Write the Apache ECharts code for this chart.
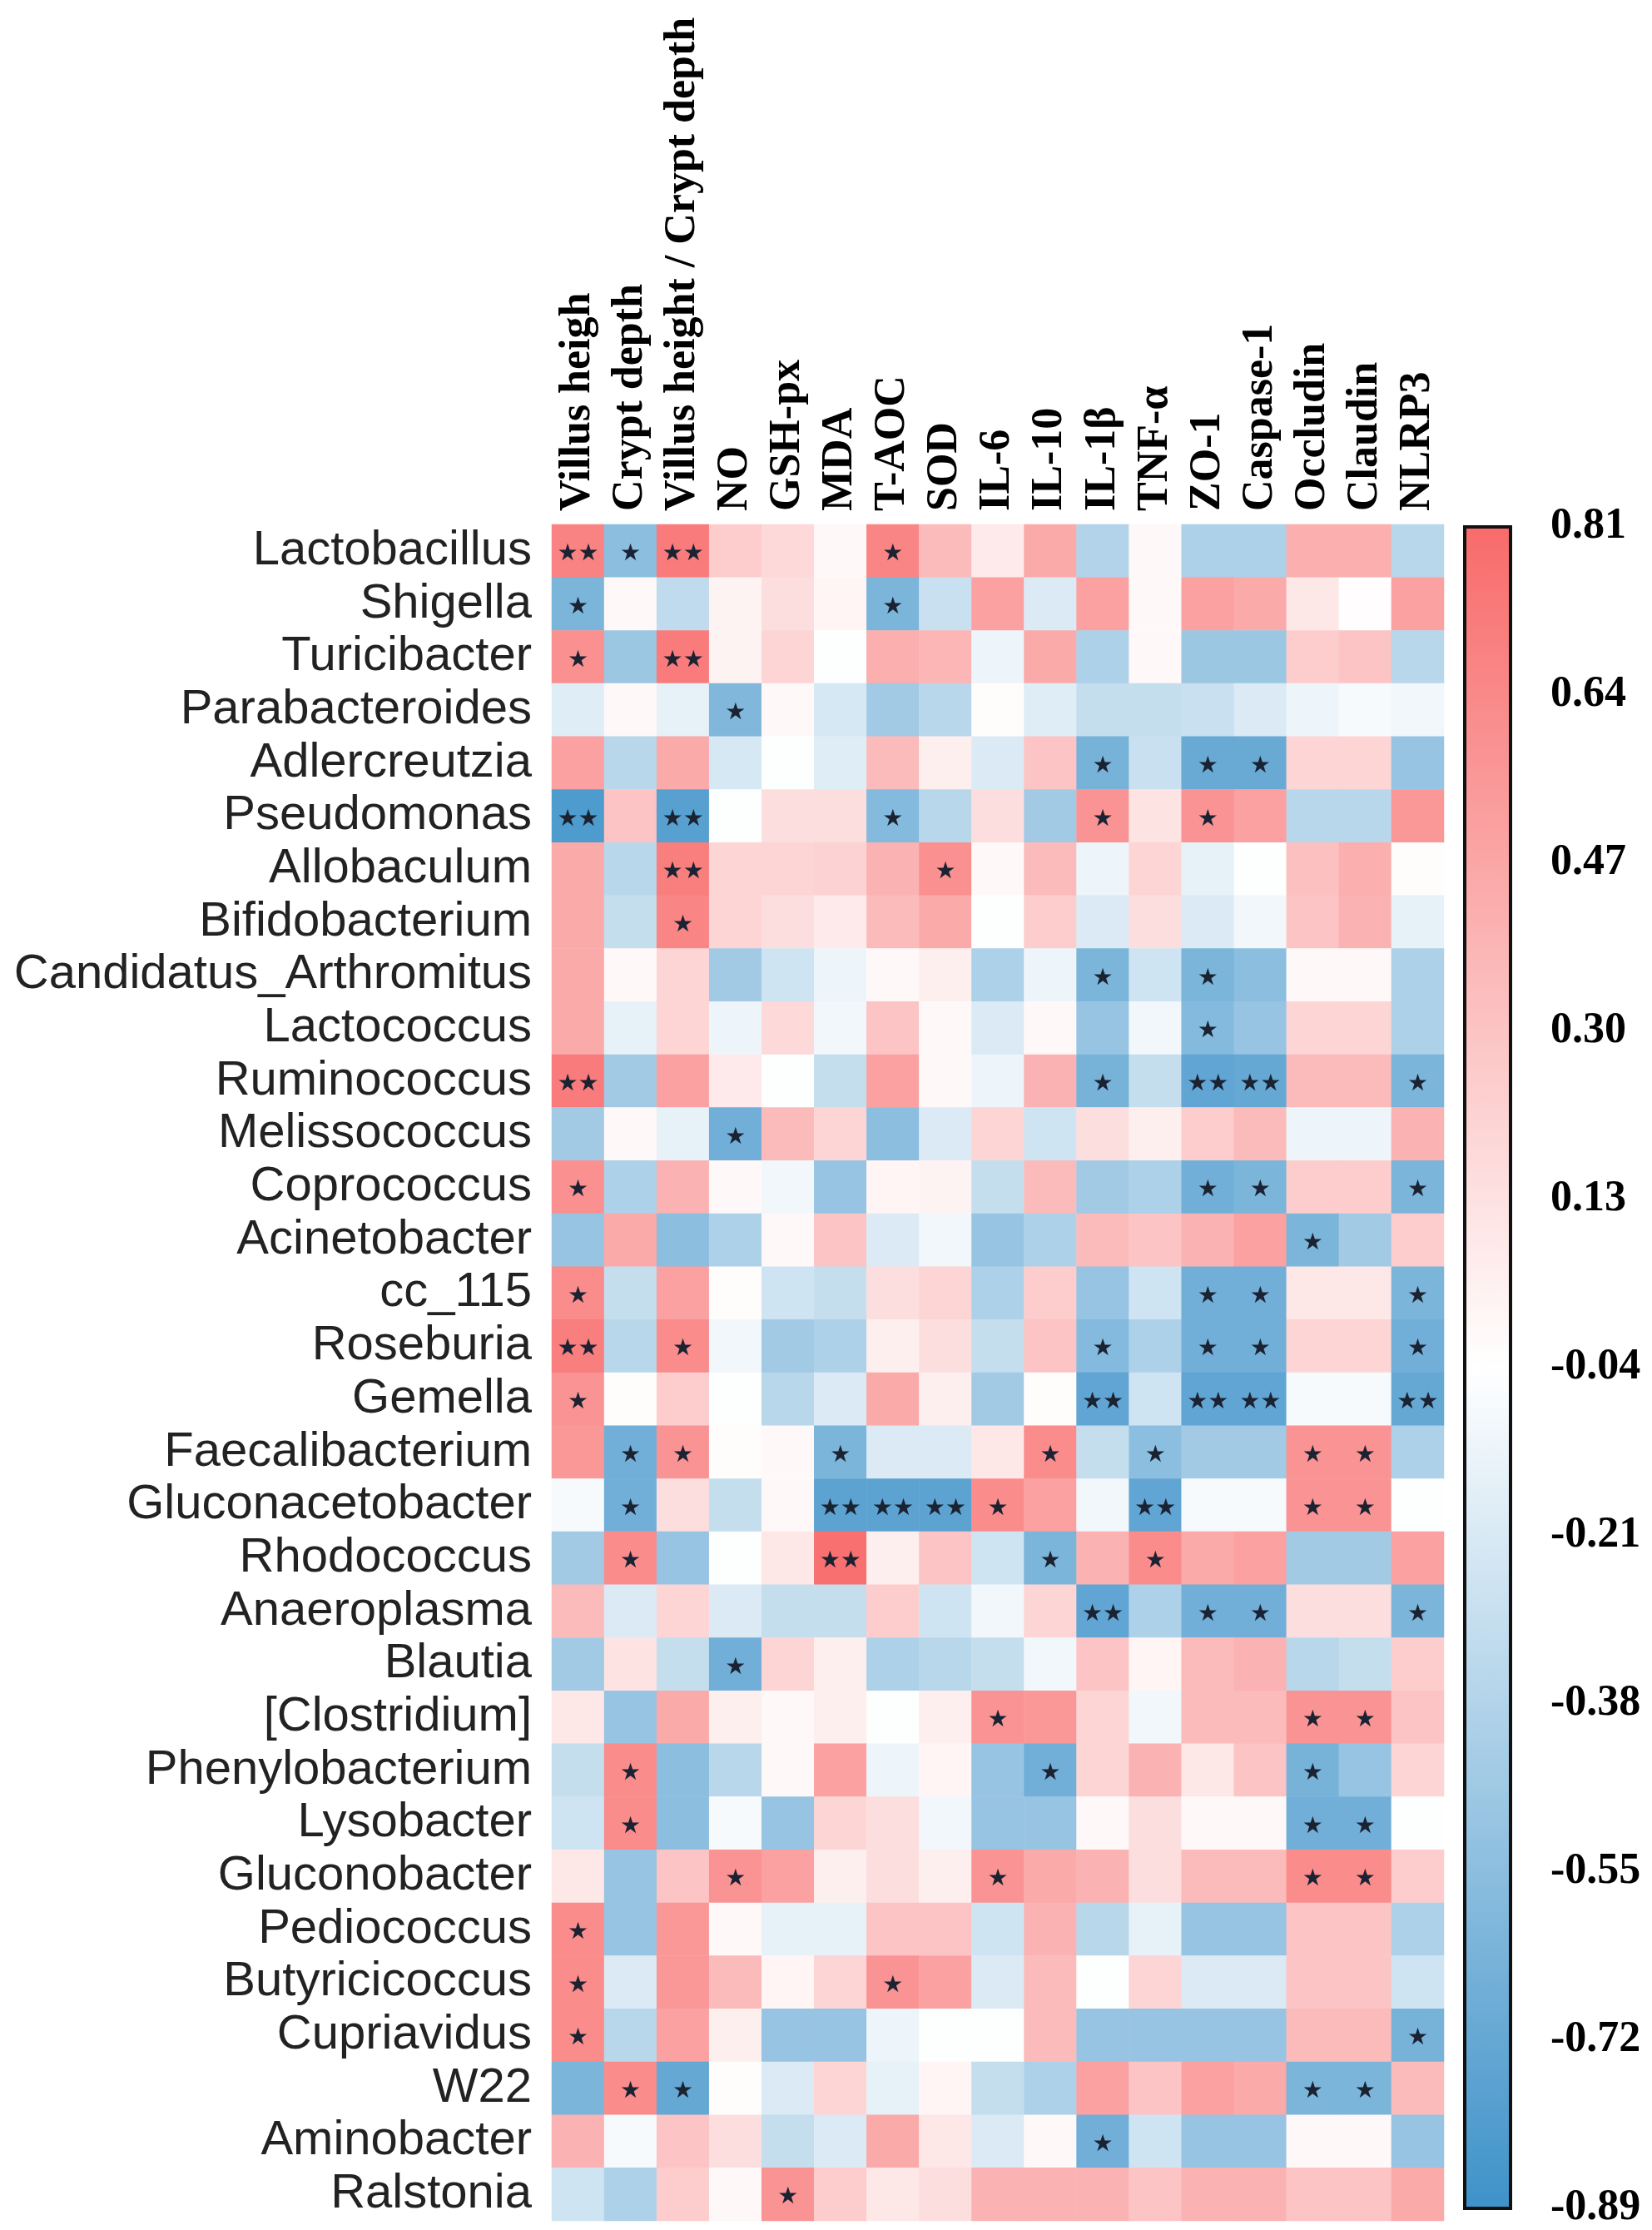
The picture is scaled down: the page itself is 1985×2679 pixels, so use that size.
<!DOCTYPE html>
<html>
<head>
<meta charset="UTF-8">
<script type="text/javascript" src="https://cdn.jsdelivr.net/npm/echarts@6/dist/echarts.min.js"></script>
<title>Correlation heatmap</title>
<style>html,body{margin:0;padding:0;background:#fff;}</style>
</head>
<body>
	<div id="main" style="width:1985px;height:2679px;"></div>
	<script type="text/javascript">
		var genera = ['Lactobacillus','Shigella','Turicibacter','Parabacteroides','Adlercreutzia','Pseudomonas','Allobaculum',
			'Bifidobacterium','Candidatus_Arthromitus','Lactococcus','Ruminococcus','Melissococcus','Coprococcus','Acinetobacter',
			'cc_115','Roseburia','Gemella','Faecalibacterium','Gluconacetobacter','Rhodococcus','Anaeroplasma','Blautia',
			'[Clostridium]','Phenylobacterium','Lysobacter','Gluconobacter','Pediococcus','Butyricicoccus','Cupriavidus',
			'W22','Aminobacter','Ralstonia'];

		var indices = ['Villus heigh','Crypt depth','Villus height / Crypt depth','NO','GSH-px','MDA','T-AOC','SOD',
			'IL-6','IL-10','IL-1β','TNF-α','ZO-1','Caspase-1','Occludin','Claudin','NLRP3'];

		// correlation per genus, one row each, columns follow indices
		var vals = [
			[ 0.68,-0.55, 0.72, 0.25, 0.18, 0.00, 0.66, 0.35, 0.08, 0.45,-0.38, 0.00,-0.40,-0.40, 0.42, 0.42,-0.35],
			[-0.62, 0.00,-0.32, 0.03, 0.15, 0.02,-0.62,-0.28, 0.50,-0.20, 0.50, 0.00, 0.50, 0.45, 0.10,-0.03, 0.50],
			[ 0.60,-0.48, 0.72, 0.03, 0.20,-0.05, 0.42, 0.38,-0.12, 0.45,-0.40, 0.00,-0.48,-0.48, 0.25, 0.30,-0.35],
			[-0.18, 0.00,-0.15,-0.60, 0.00,-0.22,-0.45,-0.35,-0.02,-0.18,-0.30,-0.30,-0.28,-0.20,-0.12,-0.08,-0.10],
			[ 0.50,-0.35, 0.45,-0.22,-0.05,-0.18, 0.35, 0.05,-0.20, 0.30,-0.64,-0.28,-0.70,-0.70, 0.20, 0.20,-0.50],
			[-0.82, 0.30,-0.78,-0.05, 0.15, 0.15,-0.58,-0.35, 0.15,-0.45, 0.58, 0.12, 0.58, 0.50,-0.35,-0.35, 0.55],
			[ 0.45,-0.35, 0.70, 0.20, 0.20, 0.22, 0.40, 0.60, 0.00, 0.35,-0.12, 0.20,-0.15,-0.05, 0.32, 0.42,-0.02],
			[ 0.45,-0.30, 0.66, 0.20, 0.15, 0.08, 0.35, 0.45,-0.05, 0.25,-0.20, 0.15,-0.20,-0.10, 0.30, 0.40,-0.15],
			[ 0.45, 0.00, 0.20,-0.45,-0.25,-0.12, 0.00, 0.05,-0.40,-0.12,-0.62,-0.25,-0.62,-0.55, 0.00, 0.00,-0.40],
			[ 0.45,-0.15, 0.20,-0.12, 0.18,-0.10, 0.30, 0.00,-0.20, 0.00,-0.50,-0.10,-0.58,-0.50, 0.20, 0.20,-0.40],
			[ 0.72,-0.45, 0.50, 0.08,-0.05,-0.30, 0.50, 0.00,-0.12, 0.40,-0.64,-0.30,-0.74,-0.72, 0.35, 0.35,-0.62],
			[-0.45, 0.00,-0.15,-0.66, 0.35, 0.20,-0.55,-0.20, 0.20,-0.25, 0.15, 0.05, 0.25, 0.35,-0.12,-0.12, 0.40],
			[ 0.60,-0.40, 0.40, 0.00,-0.10,-0.50, 0.02, 0.03,-0.30, 0.35,-0.45,-0.40,-0.66,-0.62, 0.25, 0.25,-0.62],
			[-0.50, 0.45,-0.55,-0.40, 0.00, 0.30,-0.20,-0.10,-0.50,-0.40, 0.35, 0.30, 0.40, 0.50,-0.62,-0.45, 0.25],
			[ 0.62,-0.30, 0.50,-0.02,-0.25,-0.30, 0.15, 0.20,-0.40, 0.25,-0.50,-0.25,-0.66,-0.66, 0.10, 0.10,-0.62],
			[ 0.70,-0.35, 0.62,-0.10,-0.45,-0.40, 0.05, 0.15,-0.30, 0.30,-0.58,-0.40,-0.66,-0.66, 0.20, 0.20,-0.66],
			[ 0.58,-0.02, 0.25,-0.05,-0.35,-0.20, 0.45, 0.05,-0.45,-0.02,-0.74,-0.25,-0.74,-0.74,-0.08,-0.08,-0.72],
			[ 0.55,-0.66, 0.58,-0.02, 0.00,-0.62,-0.20,-0.20, 0.10, 0.62,-0.30,-0.55,-0.45,-0.45, 0.58, 0.58,-0.40],
			[-0.08,-0.66, 0.15,-0.30, 0.00,-0.76,-0.76,-0.76, 0.62, 0.50,-0.10,-0.74,-0.08,-0.08, 0.58, 0.58,-0.05],
			[-0.45, 0.62,-0.50,-0.05, 0.10, 0.78, 0.05, 0.30,-0.25,-0.62, 0.40, 0.62, 0.45, 0.50,-0.45,-0.45, 0.50],
			[ 0.35,-0.20, 0.20,-0.20,-0.30,-0.30, 0.25,-0.25,-0.10, 0.20,-0.74,-0.40,-0.66,-0.66, 0.15, 0.15,-0.62],
			[-0.45, 0.12,-0.30,-0.66, 0.20, 0.05,-0.40,-0.35,-0.30,-0.10, 0.30, 0.02, 0.35, 0.40,-0.35,-0.30, 0.25],
			[ 0.10,-0.50, 0.45, 0.05, 0.00, 0.05,-0.05, 0.05, 0.58, 0.55, 0.20,-0.10, 0.35, 0.35, 0.58, 0.58, 0.30],
			[-0.30, 0.62,-0.55,-0.35, 0.00, 0.50,-0.12, 0.02,-0.50,-0.66, 0.20, 0.40, 0.10, 0.30,-0.64,-0.50, 0.20],
			[-0.25, 0.62,-0.55,-0.08,-0.50, 0.20, 0.15,-0.10,-0.50,-0.50, 0.00, 0.15, 0.00, 0.00,-0.66,-0.66,-0.05],
			[ 0.10,-0.50, 0.30, 0.58, 0.50, 0.05, 0.15, 0.05, 0.58, 0.45, 0.40, 0.15, 0.35, 0.35, 0.62, 0.62, 0.25],
			[ 0.62,-0.50, 0.55, 0.00,-0.15,-0.15, 0.30, 0.30,-0.25, 0.40,-0.35,-0.15,-0.50,-0.50, 0.30, 0.30,-0.40],
			[ 0.62,-0.20, 0.55, 0.35, 0.02, 0.20, 0.58, 0.50,-0.20, 0.35,-0.05, 0.20,-0.20,-0.20, 0.30, 0.30,-0.25],
			[ 0.62,-0.35, 0.50, 0.05,-0.50,-0.50,-0.12,-0.05,-0.05, 0.35,-0.50,-0.50,-0.50,-0.50, 0.35, 0.35,-0.64],
			[-0.62, 0.62,-0.72,-0.02,-0.20, 0.20,-0.15, 0.02,-0.30,-0.40, 0.50, 0.30, 0.50, 0.45,-0.62,-0.62, 0.35],
			[ 0.40,-0.08, 0.30, 0.15,-0.30,-0.20, 0.45, 0.10,-0.20, 0.00,-0.66,-0.25,-0.50,-0.50, 0.00, 0.00,-0.50],
			[-0.25,-0.40, 0.25, 0.00, 0.58, 0.25, 0.10, 0.15, 0.40, 0.40, 0.40, 0.30, 0.40, 0.40, 0.30, 0.30, 0.45]
		];

		// number of stars per cell (0, 1 = *, 2 = **)
		var sig = [
			'21200010000000000','10000010000000000','10200000000000000','00010000000000000',
			'00000000001011000','20200010001010000','00200001000000000','00100000000000000',
			'00000000001010000','00000000000010000','20000000001022001','00010000000000000',
			'10000000000011001','00000000000000100','10000000000011001','20100000001011001',
			'10000000002022002','01100100010100110','01000222100200110','01000200010100000',
			'00000000002011001','00010000000000000','00000000100000110','01000000010000100',
			'01000000000000110','00010000100000110','10000000000000000','10000010000000000',
			'10000000000000001','01100000000000110','00000000001000000','00001000000000000'
		];

		var barTicks = ['-0.89','-0.72','-0.55','-0.38','-0.21','-0.04','0.13','0.30','0.47','0.64','0.81'];
		var barMin = -0.89, barMax = 0.81;
		var palette = ['#3E92C9', '#FFFFFF', '#F86B6B'];

		var cells = [];
		for (var r = 0; r < genera.length; r++) {
			for (var c = 0; c < indices.length; c++) {
				cells.push([c, r, vals[r][c], +sig[r].charAt(c)]);
			}
		}

		var myChart = echarts.init(document.getElementById('main'));
		var option = {
			animation: false,
			backgroundColor: '#fff',
			grid: [
				{left: 663, top: 630, width: 1072, height: 2038},
				// colour bar: same palette as the visualMap, max at the top
				{left: 1760, top: 633, width: 55, height: 2028, show: true, z: 10,
					borderColor: '#111', borderWidth: 4,
					backgroundColor: new echarts.graphic.LinearGradient(0, 0, 0, 1, [
						{offset: 0, color: palette[2]}, {offset: 0.5, color: palette[1]}, {offset: 1, color: palette[0]}
					])}
			],
			xAxis: [
				{
					type: 'category', data: indices, position: 'top', gridIndex: 0,
					axisLine: {show: false}, axisTick: {show: false}, splitLine: {show: false},
					axisLabel: {
						interval: 0, rotate: -90, margin: 16, color: '#000',
						fontFamily: 'Liberation Serif', fontWeight: 'bold', fontSize: 52
					}
				},
				{type: 'value', gridIndex: 1, show: false, min: 0, max: 1}
			],
			yAxis: [
				{
					type: 'category', data: genera, inverse: true, gridIndex: 0,
					axisLine: {show: false}, axisTick: {show: false}, splitLine: {show: false},
					axisLabel: {
						interval: 0, margin: 24, color: '#222',
						fontFamily: 'Liberation Sans', fontSize: 58
					}
				},
				{
					type: 'value', gridIndex: 1, position: 'right', min: 0, max: 10, interval: 1,
					axisLine: {show: false}, splitLine: {show: false},
					axisTick: {show: true, length: 12, lineStyle: {color: '#000', width: 3}},
					axisLabel: {
						margin: 48, color: '#000', fontFamily: 'Liberation Serif', fontWeight: 'bold', fontSize: 52,
						formatter: function (v) { return barTicks[v]; }
					}
				}
			],
			visualMap: {
				type: 'continuous', min: barMin, max: barMax, seriesIndex: 0, dimension: 2,
				show: false, inRange: {color: palette}
			},
			series: [{
				type: 'heatmap', xAxisIndex: 0, yAxisIndex: 0, data: cells,
				itemStyle: {borderWidth: 0},
				emphasis: {disabled: true},
				label: {
					show: true, color: '#1b2232', fontFamily: 'DejaVu Sans', fontSize: 28, offset: [0, 4],
					formatter: function (p) { return p.value[3] ? new Array(p.value[3] + 1).join('★') : ''; }
				}
			}]
		};
		myChart.setOption(option);
	</script>
</body>
</html>
